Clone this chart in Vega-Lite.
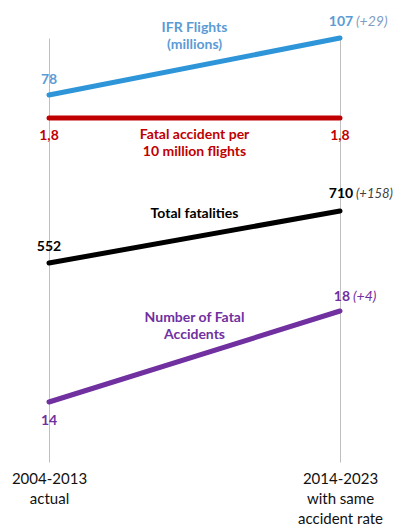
{
  "$schema": "https://vega.github.io/schema/vega-lite/v6.json",
  "width": 394,
  "height": 424,
  "autosize": {"type": "none"},
  "padding": {"top": 38, "bottom": 63, "left": 0, "right": 0},
  "background": "white",
  "config": {
    "view": {"stroke": null},
    "font": "Lato",
    "locale": {"number": {"decimal": ",", "thousands": ".", "grouping": [3], "currency": ["", " €"]}}
  },
  "data": {
    "values": [
      {"series": "IFR", "start_year": 2004, "value": 78},
      {"series": "IFR", "start_year": 2014, "value": 107, "delta": "(+29)"},
      {"series": "Rate", "start_year": 2004, "value": 1.8},
      {"series": "Rate", "start_year": 2014, "value": 1.8},
      {"series": "Fatalities", "start_year": 2004, "value": 552},
      {"series": "Fatalities", "start_year": 2014, "value": 710, "delta": "(+158)"},
      {"series": "Accidents", "start_year": 2004, "value": 14},
      {"series": "Accidents", "start_year": 2014, "value": 18, "delta": "(+4)"}
    ]
  },
  "encoding": {
    "x": {
      "field": "start_year",
      "type": "quantitative",
      "scale": {"domain": [2002.316, 2015.856], "nice": false, "zero": false},
      "axis": {
        "values": [2004, 2014],
        "title": null,
        "grid": true,
        "gridColor": "#bfbfbf",
        "gridWidth": 1,
        "domain": false,
        "ticks": false,
        "labelFont": "Lato",
        "labelFontSize": 15,
        "labelColor": "#111111",
        "labelLineHeight": 20,
        "labelPadding": 9,
        "labelAlign": "center",
        "labelExpr": "datum.value == 2004 ? ['2004-2013', 'actual'] : ['2014-2023', 'with same', 'accident rate']"
      }
    }
  },
  "layer": [
    {
      "transform": [{"filter": "datum.series == 'IFR'"}],
      "encoding": {"y": {"field": "value", "type": "quantitative", "scale": {"domain": [-108.7, 107], "nice": false, "zero": false}, "axis": null}},
      "layer": [
        {"mark": {"type": "line", "color": "#2e95d8", "strokeWidth": 5, "strokeCap": "round"}},
        {"transform": [{"filter": "datum.start_year == 2004"}], "mark": {"type": "text", "color": "#5b9bd5", "fontWeight": "bold", "fontSize": 14, "dy": -15}, "encoding": {"text": {"field": "value", "type": "quantitative", "format": "d"}}},
        {"transform": [{"filter": "datum.start_year == 2014"}], "mark": {"type": "text", "color": "#5b9bd5", "fontWeight": "bold", "fontSize": 14, "dy": -16, "dx": 1}, "encoding": {"text": {"field": "value", "type": "quantitative", "format": "d"}}},
        {"transform": [{"filter": "datum.start_year == 2014"}], "mark": {"type": "text", "color": "#7f9cc2", "fontStyle": "italic", "fontSize": 14, "align": "left", "dy": -16, "dx": 16}, "encoding": {"text": {"field": "delta", "type": "nominal"}}},
        {"transform": [{"aggregate": [{"op": "mean", "field": "value", "as": "value"}, {"op": "mean", "field": "start_year", "as": "start_year"}]}], "mark": {"type": "text", "text": ["IFR Flights", "(millions)"], "color": "#5b9bd5", "fontWeight": "bold", "fontSize": 14, "lineHeight": 17, "dy": -39}}
      ]
    },
    {
      "transform": [{"filter": "datum.series == 'Rate'"}],
      "encoding": {"y": {"field": "value", "type": "quantitative", "scale": {"domain": [0, 2.2186], "nice": false, "zero": false}, "axis": null}},
      "layer": [
        {"mark": {"type": "line", "color": "#c00000", "strokeWidth": 5, "strokeCap": "round"}},
        {"mark": {"type": "text", "color": "#c00000", "fontWeight": "bold", "fontSize": 14, "dy": 18}, "encoding": {"text": {"field": "value", "type": "quantitative", "format": ".1f"}}},
        {"transform": [{"aggregate": [{"op": "mean", "field": "value", "as": "value"}, {"op": "mean", "field": "start_year", "as": "start_year"}]}], "mark": {"type": "text", "text": ["Fatal accident per", "10 million flights"], "color": "#c00000", "fontWeight": "bold", "fontSize": 14, "lineHeight": 17, "dy": 17}}
      ]
    },
    {
      "transform": [{"filter": "datum.series == 'Fatalities'"}],
      "encoding": {"y": {"field": "value", "type": "quantitative", "scale": {"domain": [-52.6, 1235.7], "nice": false, "zero": false}, "axis": null}},
      "layer": [
        {"mark": {"type": "line", "color": "#000000", "strokeWidth": 5, "strokeCap": "round"}},
        {"transform": [{"filter": "datum.start_year == 2004"}], "mark": {"type": "text", "color": "#000000", "fontWeight": "bold", "fontSize": 14, "dy": -16}, "encoding": {"text": {"field": "value", "type": "quantitative", "format": "d"}}},
        {"transform": [{"filter": "datum.start_year == 2014"}], "mark": {"type": "text", "color": "#000000", "fontWeight": "bold", "fontSize": 14, "dy": -17, "dx": 1}, "encoding": {"text": {"field": "value", "type": "quantitative", "format": "d"}}},
        {"transform": [{"filter": "datum.start_year == 2014"}], "mark": {"type": "text", "color": "#404040", "fontStyle": "italic", "fontSize": 13, "align": "left", "dy": -17, "dx": 16}, "encoding": {"text": {"field": "delta", "type": "nominal"}}},
        {"transform": [{"aggregate": [{"op": "mean", "field": "value", "as": "value"}, {"op": "mean", "field": "start_year", "as": "start_year"}]}], "mark": {"type": "text", "text": "Total fatalities", "color": "#000000", "fontWeight": "bold", "fontSize": 14, "dy": -23}}
      ]
    },
    {
      "transform": [{"filter": "datum.series == 'Accidents'"}],
      "encoding": {"y": {"field": "value", "type": "quantitative", "scale": {"domain": [11.363, 30], "nice": false, "zero": false}, "axis": null}},
      "layer": [
        {"mark": {"type": "line", "color": "#7030a0", "strokeWidth": 5, "strokeCap": "round"}},
        {"transform": [{"filter": "datum.start_year == 2004"}], "mark": {"type": "text", "color": "#7030a0", "fontWeight": "bold", "fontSize": 14, "dy": 19}, "encoding": {"text": {"field": "value", "type": "quantitative", "format": "d"}}},
        {"transform": [{"filter": "datum.start_year == 2014"}], "mark": {"type": "text", "color": "#7030a0", "fontWeight": "bold", "fontSize": 14, "dy": -14, "dx": 2}, "encoding": {"text": {"field": "value", "type": "quantitative", "format": "d"}}},
        {"transform": [{"filter": "datum.start_year == 2014"}], "mark": {"type": "text", "color": "#7030a0", "fontStyle": "italic", "fontSize": 14, "align": "left", "dy": -14, "dx": 13}, "encoding": {"text": {"field": "delta", "type": "nominal"}}},
        {"transform": [{"aggregate": [{"op": "mean", "field": "value", "as": "value"}, {"op": "mean", "field": "start_year", "as": "start_year"}]}], "mark": {"type": "text", "text": ["Number of Fatal", "Accidents"], "color": "#7030a0", "fontWeight": "bold", "fontSize": 14, "lineHeight": 17, "dy": -39}}
      ]
    }
  ],
  "resolve": {"scale": {"y": "independent"}}
}
